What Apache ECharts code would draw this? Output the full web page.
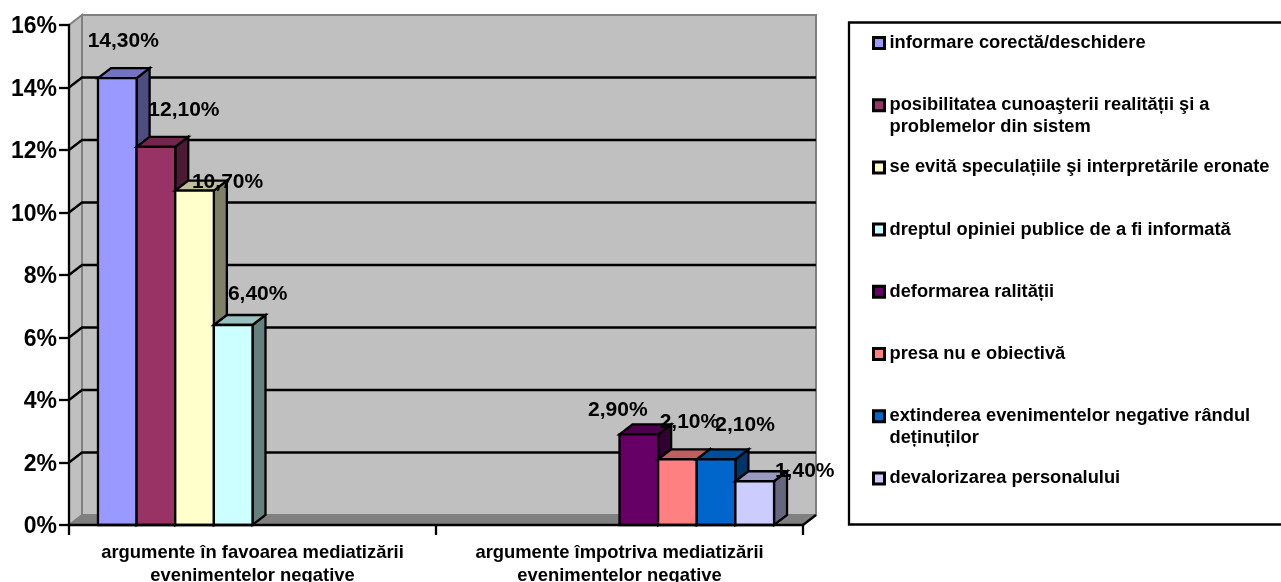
<!DOCTYPE html>
<html>
<head>
<meta charset="utf-8">
<style>html,body{margin:0;padding:0;background:#fff}#chart{width:1281px;height:582px}</style>
<script src="https://cdn.jsdelivr.net/npm/echarts@6/dist/echarts.min.js"></script>
</head>
<body>
<div id="chart"></div>
<script>
const categories = [
  'argumente în favoarea mediatizării\nevenimentelor negative',
  'argumente împotriva mediatizării\nevenimentelor negative'
];
const seriesNames = [
  'informare corectă/deschidere',
  'posibilitatea cunoaşterii realității şi a\nproblemelor din sistem',
  'se evită speculațiile şi interpretările eronate',
  'dreptul opiniei publice de a fi informată',
  'deformarea ralității',
  'presa nu e obiectivă',
  'extinderea evenimentelor negative rândul\ndeținuților',
  'devalorizarea personalului'
];
const valuesInFavour = [14.3, 12.1, 10.7, 6.4, null, null, null, null];
const valuesAgainst = [null, null, null, null, 2.9, 2.1, 2.1, 1.4];
const seriesColors = ['#9999FF', '#993366', '#FFFFCC', '#CCFFFF', '#660066', '#FF8080', '#0066CC', '#CCCCFF'];
const yTicks = [0, 2, 4, 6, 8, 10, 12, 14, 16];

// Hand-placed value labels, relative to the top centre of each bar's front face.
const labelNudges = [[6, -36.5], [28, -37], [33, -8], [24.5, -31], [-21, -24], [12, -37], [29, -34], [50, -10]];

const FONT = '"Liberation Sans", Arial, sans-serif';
const DEPTH_X = 13;
const DEPTH_Y = -10;
const GAP_RATIO = 1.5;
const LEGEND_FIRST = 43;
const LEGEND_STEP = 62.2;
const LEGEND_LINE = 22;
const STROKE = 2.3;

function shade(hex, k) {
  const n = parseInt(hex.slice(1), 16);
  const c = s => Math.round(((n >> s) & 255) * k);
  return 'rgb(' + c(16) + ',' + c(8) + ',' + c(0) + ')';
}

function formatValue(v) {
  return v.toFixed(2).replace('.', ',') + '%';
}

function polygon(points, fill, stroke, width) {
  return {
    type: 'polygon',
    shape: { points: points },
    style: { fill: fill, stroke: stroke, lineWidth: width, lineJoin: 'miter' }
  };
}

function line(a, b, stroke, width, z2) {
  return {
    type: 'line',
    z2: z2,
    shape: { x1: a[0], y1: a[1], x2: b[0], y2: b[1] },
    style: { stroke: stroke, lineWidth: width }
  };
}

// Back wall, side wall, floor and the gridlines that wrap around them.
function renderWalls(params, api) {
  const g = params.coordSys;
  const left = g.x, right = g.x + g.width, top = g.y, bottom = g.y + g.height;
  const back = (x, y) => [x + DEPTH_X, y + DEPTH_Y];
  const children = [
    polygon([back(left, top), back(right, top), back(right, bottom), back(left, bottom)], '#C0C0C0', '#808080', 2),
    polygon([[left, top], back(left, top), back(left, bottom), [left, bottom]], '#C0C0C0', '#808080', 2),
    polygon([[left, bottom], back(left, bottom), back(right, bottom), [right, bottom]], '#808080', '#808080', 1)
  ];
  yTicks.forEach(t => {
    if (t === 0 || t === 16) return;
    const y = api.coord([0, t])[1];
    children.push({
      type: 'polyline',
      z2: 5,
      shape: { points: [[left, y], back(left, y), back(right, y)] },
      style: { fill: 'none', stroke: '#000', lineWidth: STROKE }
    });
  });
  children.push(line([right, bottom], back(right, bottom), '#000', STROKE, 6));
  return { type: 'group', children: children };
}

// One clustered box: front face, top face and right-hand side face, plus its value label.
function makeBarRenderer(seriesIndex) {
  const color = seriesColors[seriesIndex];
  return function (params, api) {
    const value = api.value(1);
    const top = api.coord([api.value(0), value]);
    const base = api.coord([api.value(0), 0]);
    const band = api.size([1, 0])[0];
    const w = band / (seriesNames.length + GAP_RATIO);
    const x0 = top[0] - (w * seriesNames.length) / 2 + seriesIndex * w;
    const x1 = x0 + w;
    const yt = top[1], yb = base[1];
    const nudge = labelNudges[seriesIndex];
    return {
      type: 'group',
      children: [
        polygon([[x1, yt], [x1 + DEPTH_X, yt + DEPTH_Y], [x1 + DEPTH_X, yb + DEPTH_Y], [x1, yb]], shade(color, 0.5), '#000', STROKE),
        polygon([[x0, yt], [x0 + DEPTH_X, yt + DEPTH_Y], [x1 + DEPTH_X, yt + DEPTH_Y], [x1, yt]], shade(color, 0.75), '#000', STROKE),
        polygon([[x0, yt], [x1, yt], [x1, yb], [x0, yb]], color, '#000', STROKE),
        {
          type: 'text',
          z2: 100,
          style: {
            text: formatValue(value),
            x: (x0 + x1) / 2 + nudge[0],
            y: yt + nudge[1],
            align: 'center',
            verticalAlign: 'middle',
            font: 'bold 21px ' + FONT,
            fill: '#000'
          }
        }
      ]
    };
  };
}

const barSeries = seriesNames.map((name, i) => ({
  name: name,
  type: 'custom',
  z: 3,
  itemStyle: { color: seriesColors[i] },
  encode: { x: 0, y: 1 },
  renderItem: makeBarRenderer(i),
  data: [[0, valuesInFavour[i]], [1, valuesAgainst[i]]].filter(d => d[1] !== null)
}));

// Each legend entry sits at its own fixed step. Two-line entries get a blank leading line,
// so the first written line is the middle one and lines up with the swatch.
const legends = seriesNames.map((name, i) => {
  const twoLines = name.indexOf('\n') >= 0;
  const centre = LEGEND_FIRST + LEGEND_STEP * i;
  return {
    data: [name],
    orient: 'vertical',
    left: 872,
    top: twoLines ? centre - LEGEND_LINE * 1.5 : centre - LEGEND_LINE / 2,
    padding: 0,
    icon: 'rect',
    itemWidth: 11,
    itemHeight: 11,
    itemGap: 0,
    selectedMode: false,
    formatter: n => (n.indexOf('\n') >= 0 ? '\n' + n : n),
    itemStyle: { borderColor: '#000', borderWidth: 3 },
    textStyle: {
      color: '#000',
      fontFamily: FONT,
      fontWeight: 'bold',
      fontSize: 18.3,
      lineHeight: LEGEND_LINE
    }
  };
});

const chart = echarts.init(document.getElementById('chart'), null, { renderer: 'canvas' });
chart.setOption({
  animation: false,
  backgroundColor: '#fff',
  grid: { left: 69, right: 478, top: 25, bottom: 57, containLabel: false, outerBoundsMode: 'none' },
  xAxis: {
    type: 'category',
    data: categories,
    z: 4,
    axisLine: { lineStyle: { color: '#000', width: STROKE } },
    axisTick: { show: true, alignWithLabel: false, length: 10, lineStyle: { color: '#000', width: STROKE } },
    axisLabel: {
      interval: 0,
      color: '#000',
      fontFamily: FONT,
      fontWeight: 'bold',
      fontSize: 18.4,
      lineHeight: 23,
      margin: 16
    }
  },
  yAxis: {
    type: 'value',
    min: 0,
    max: 16,
    interval: 2,
    z: 4,
    splitLine: { show: false },
    axisLine: { show: true, lineStyle: { color: '#000', width: STROKE } },
    axisTick: { show: true, length: 10, lineStyle: { color: '#000', width: STROKE } },
    axisLabel: {
      margin: 12,
      formatter: '{tick|{value}%}',
      rich: {
        tick: {
          color: '#000',
          fontFamily: FONT,
          fontWeight: 'bold',
          fontSize: 23,
          padding: [4, 0, 0, 0]
        }
      }
    }
  },
  legend: legends,
  graphic: [{
    type: 'rect',
    shape: { x: 849, y: 22.5, width: 460, height: 502 },
    style: { fill: 'none', stroke: '#000', lineWidth: STROKE },
    silent: true
  }],
  series: [{
    name: 'walls',
    type: 'custom',
    z: -1,
    silent: true,
    encode: { x: 0, y: 1 },
    renderItem: renderWalls,
    data: [[0, 0]]
  }].concat(barSeries)
});
</script>
</body>
</html>
